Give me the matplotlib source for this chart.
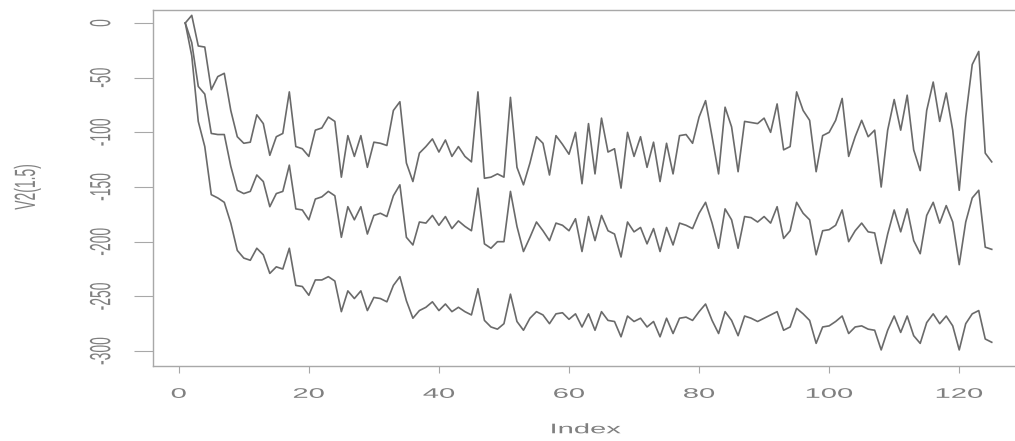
import numpy as np
import matplotlib
matplotlib.use("Agg")
import matplotlib.pyplot as plt
from matplotlib.patheffects import AbstractPathEffect
from matplotlib.transforms import Affine2D

# three series (index 1..125)
v_top = [0, 7, -21, -22, -61, -49, -46, -80, -104, -110, -109, -84, -92, -121, -104, -101, -63, -113, -115, -122,
         -98, -96, -86, -90, -141, -103, -122, -103, -132, -109, -110, -112, -80, -72, -128, -145, -119, -113, -106, -118,
         -107, -122, -113, -122, -127, -63, -142, -141, -138, -141, -68, -132, -148, -128, -104, -110, -139, -103, -111, -120,
         -100, -147, -92, -138, -87, -118, -115, -151, -100, -122, -104, -132, -109, -145, -110, -138, -103, -102, -110, -86,
         -71, -104, -138, -77, -95, -136, -90, -91, -92, -87, -100, -74, -116, -113, -63, -80, -89, -136, -103, -100,
         -89, -69, -122, -104, -89, -104, -98, -150, -98, -70, -98, -66, -116, -135, -80, -54, -90, -64, -98, -153,
         -86, -38, -26, -119, -127]
v_mid = [0, -18, -58, -65, -101, -102, -102, -131, -153, -156, -154, -139, -145, -168, -156, -154, -130, -170, -171, -180,
         -161, -159, -154, -158, -196, -168, -180, -168, -193, -176, -174, -177, -158, -148, -196, -203, -182, -183, -176, -185,
         -177, -188, -181, -186, -190, -151, -202, -206, -200, -200, -154, -186, -209, -196, -182, -190, -199, -183, -185, -190,
         -179, -209, -177, -199, -176, -190, -193, -214, -182, -191, -187, -202, -188, -209, -187, -203, -183, -185, -188, -174,
         -164, -183, -206, -170, -180, -206, -177, -178, -182, -177, -183, -168, -197, -190, -164, -174, -180, -212, -190, -189,
         -185, -171, -200, -190, -183, -191, -192, -220, -193, -171, -191, -170, -199, -211, -176, -164, -183, -167, -182, -221,
         -182, -160, -153, -205, -207]
v_low = [0, -30, -90, -113, -157, -160, -164, -183, -208, -215, -217, -206, -212, -229, -223, -225, -206, -240, -241, -249,
         -235, -235, -232, -236, -264, -245, -252, -245, -263, -251, -252, -255, -240, -232, -254, -270, -263, -260, -255, -263,
         -257, -264, -260, -264, -267, -243, -272, -278, -280, -275, -248, -273, -281, -270, -264, -267, -275, -266, -265, -271,
         -266, -278, -266, -281, -264, -272, -273, -287, -268, -273, -270, -278, -273, -287, -270, -284, -270, -269, -272, -264,
         -257, -272, -284, -264, -272, -286, -268, -270, -273, -270, -267, -264, -281, -278, -261, -266, -272, -293, -278, -277,
         -273, -268, -284, -278, -277, -280, -281, -299, -281, -268, -283, -268, -286, -293, -274, -266, -275, -268, -277, -299,
         -275, -266, -263, -289, -292]

x_ticks = [0, 20, 40, 60, 80, 100, 120]
y_ticks = [0, -50, -100, -150, -200, -250, -300]


class HStretch(AbstractPathEffect):
    # the reference image is stretched sideways, so widen the glyphs about their centre
    def __init__(self, sx):
        super().__init__()
        self.sx = sx

    def draw_path(self, renderer, gc, tpath, affine, rgbFace=None):
        ext = tpath.get_extents(affine)
        cx = (ext.x0 + ext.x1) / 2
        t = affine + Affine2D().translate(-cx, 0).scale(self.sx, 1).translate(cx, 0)
        renderer.draw_path(gc, tpath, t, rgbFace)


plt.rcParams['font.family'] = ['Liberation Sans', 'DejaVu Sans']
plt.rcParams['axes.unicode_minus'] = False

txt_col = '#808080'
line_col = '#6a6a6a'
box_col = '#a8a8a8'
stretch = [HStretch(2.1)]

fig = plt.figure(figsize=(10.15, 4.41), dpi=100)
ax = fig.add_axes([153 / 1015, 75 / 441, 871 / 1015, 356 / 441])

n = len(v_top)
idx = np.arange(1, n + 1)
for s in (v_top, v_mid, v_low):
    ax.plot(idx, s, color=line_col, lw=1.2)

ax.set_xlim(1 - 0.04 * (n - 1), n + 0.04 * (n - 1))
ax.set_ylim(-313.7, 11.9)

for sp in ax.spines.values():
    sp.set_color(box_col)
    sp.set_linewidth(1.0)

ax.set_xticks(x_ticks)
ax.set_yticks(y_ticks)
ax.tick_params(axis='x', length=5, width=0.8, color=box_col, pad=10,
               labelsize=10, labelcolor=txt_col)
ax.tick_params(axis='y', length=13.7, width=0.8, color=box_col, pad=23.8,
               labelsize=10, labelcolor=txt_col, labelrotation=90)

for lab in ax.get_xticklabels():
    lab.set_path_effects(stretch)
for lab in ax.get_yticklabels():
    lab.set_ha('center')
    lab.set_va('center')
    lab.set_path_effects(stretch)

ax.set_xlabel('Index', fontsize=10, color=txt_col, va='top', path_effects=stretch)
ax.xaxis.set_label_coords(0.497, -0.158)
ax.set_ylabel('V2(1.5)', fontsize=10, color=txt_col, va='center', path_effects=stretch)
ax.yaxis.set_label_coords(-0.1447, 0.503)

fig.savefig('out.png', dpi=100)
